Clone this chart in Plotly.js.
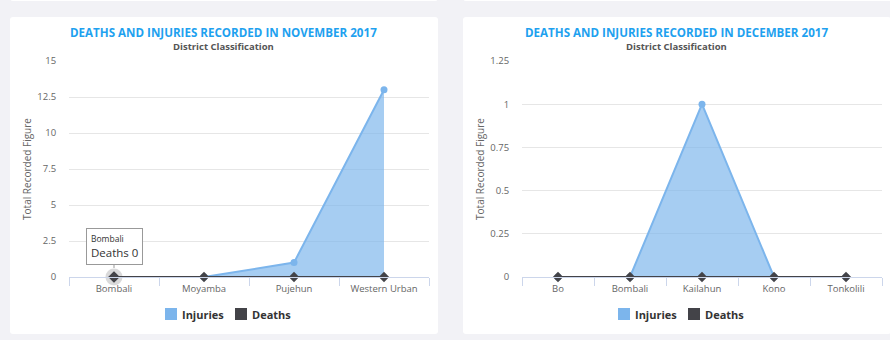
<!DOCTYPE html>
<html><head><meta charset="utf-8">
<script src="https://cdn.plot.ly/plotly-3.0.1.min.js"></script>
<style>
html,body{margin:0;padding:0;width:890px;height:340px;overflow:hidden;background:#f2f2f6;font-family:"Open Sans",sans-serif;}
.card{position:absolute;background:#fff;border-radius:3px;}
</style></head><body>
<div class="card" style="left:10px;top:-10px;width:428px;height:11px"></div>
<div class="card" style="left:463px;top:-10px;width:440px;height:11px"></div>
<div class="card" id="c1" style="left:10px;top:17px;width:428px;height:317px"></div>
<div class="card" id="c2" style="left:463px;top:17px;width:428px;height:317px"></div>
<script>
// November 2017
const novTitle = "DEATHS AND INJURIES RECORDED IN NOVEMBER 2017";
const novDistricts = ["Bombali", "Moyamba", "Pujehun", "Western Urban"];
const novInjuries = [0, 0, 1, 13];
const novDeaths = [0, 0, 0, 0];
const novTicks = [0, 2.5, 5, 7.5, 10, 12.5, 15];
const novTickText = ["0", "2.5", "5", "7.5", "10", "12.5", "15"];

// December 2017
const decTitle = "DEATHS AND INJURIES RECORDED IN DECEMBER 2017";
const decDistricts = ["Bo", "Bombali", "Kailahun", "Kono", "Tonkolili"];
const decInjuries = [0, 0, 1, 0, 0];
const decDeaths = [0, 0, 0, 0, 0];
const decTicks = [0, 0.25, 0.5, 0.75, 1, 1.25];
const decTickText = ["0", "0.25", "0.5", "0.75", "1", "1.25"];

const subtitle = "District Classification";
const yTitle = "Total Recorded Figure";
const seriesNames = ["Injuries", "Deaths"];
// highlighted tooltip point (November chart)
const tipIndex = 0;

const FONT = '"Open Sans", sans-serif';
const INJ = '#7cb5ec', DEA = '#434348';

function build(div, title, cats, inj, dea, ticks, tickText, ymax, tip) {
  const traces = [
    {x: cats, y: inj, name: seriesNames[0], type: 'scatter', mode: 'lines+markers', showlegend: false,
     fill: 'tozeroy', fillcolor: 'rgba(124,181,236,0.68)',
     line: {color: INJ, width: 2}, marker: {color: INJ, size: 7, symbol: 'circle'},
     cliponaxis: false},
    {x: cats, y: dea, name: seriesNames[1], type: 'scatter', mode: 'lines+markers', showlegend: false,
     line: {color: DEA, width: 2}, marker: {color: DEA, size: 8, symbol: 'diamond'},
     cliponaxis: false}
  ];
  const annotations = [
    {text: '<b>' + title + '</b>', xref: 'paper', yref: 'paper', x: 0.43, y: 1, yshift: 29,
     showarrow: false, font: {family: FONT, size: 11.6, color: '#1ea1ef'}, xanchor: 'center', yanchor: 'middle'},
    {text: '<b>' + subtitle + '</b>', xref: 'paper', yref: 'paper', x: 0.43, y: 1, yshift: 15,
     showarrow: false, font: {family: FONT, size: 9.5, color: '#555'}, xanchor: 'center', yanchor: 'middle'},
    // legend labels
    {text: '<b>' + seriesNames[0] + '</b>', xref: 'paper', yref: 'paper', x: 0, y: 0, xshift: 111, yshift: -37,
     showarrow: false, xanchor: 'left', yanchor: 'middle', font: {family: FONT, size: 11, color: '#333'}},
    {text: '<b>' + seriesNames[1] + '</b>', xref: 'paper', yref: 'paper', x: 0, y: 0, xshift: 181, yshift: -37,
     showarrow: false, xanchor: 'left', yanchor: 'middle', font: {family: FONT, size: 11, color: '#333'}}
  ];
  const shapes = [
    {type: 'rect', xref: 'paper', yref: 'paper', xsizemode: 'pixel', ysizemode: 'pixel', xanchor: 0, yanchor: 0,
     x0: 96, x1: 108, y0: -31, y1: -43, fillcolor: INJ, line: {width: 0}},
    {type: 'rect', xref: 'paper', yref: 'paper', xsizemode: 'pixel', ysizemode: 'pixel', xanchor: 0, yanchor: 0,
     x0: 166, x1: 178, y0: -31, y1: -43, fillcolor: DEA, line: {width: 0}}
  ];
  if (tip !== null) {
    traces.push({x: [cats[tip]], y: [dea[tip]], type: 'scatter', mode: 'markers', showlegend: false,
      marker: {color: 'rgba(67,67,72,0.2)', size: 17, symbol: 'circle'}, cliponaxis: false});
    traces.push({x: [cats[tip]], y: [dea[tip]], type: 'scatter', mode: 'markers', showlegend: false,
      marker: {color: DEA, size: 9, symbol: 'diamond'}, cliponaxis: false});
    annotations.push({x: cats[tip], y: dea[tip], xref: 'x', yref: 'y',
      text: '<span style="font-size:8.5px">' + cats[tip] + '</span><br>' + seriesNames[1] + ' ' + dea[tip],
      align: 'left', showarrow: true, arrowhead: 0, arrowwidth: 1, arrowcolor: '#999', ax: 0, ay: -31,
      standoff: 9, bgcolor: 'rgba(255,255,255,0.95)', bordercolor: '#999', borderwidth: 1, borderpad: 4,
      font: {family: FONT, size: 11.5, color: '#333'}});
  }
  const layout = {
    width: 428, height: 317,
    margin: {l: 59, r: 9, t: 44, b: 57},
    paper_bgcolor: 'rgba(0,0,0,0)', plot_bgcolor: 'rgba(0,0,0,0)',
    font: {family: FONT, color: '#666'},
    showlegend: false, hovermode: false,
    xaxis: {type: 'category', range: [-0.5, cats.length - 0.5], showgrid: false, zeroline: false,
      showline: true, linecolor: '#ccd6eb', linewidth: 1, ticks: 'outside', tickson: 'boundaries',
      ticklen: 8, tickcolor: '#ccd6eb', ticklabelstandoff: 3, tickfont: {family: FONT, size: 9.5, color: '#666'}, fixedrange: true, automargin: false},
    yaxis: {range: [0, ymax], tickvals: ticks, ticktext: tickText, showgrid: true, gridcolor: '#e6e6e6',
      zeroline: false, showline: false, ticks: 'outside', ticklen: 10, tickcolor: 'rgba(0,0,0,0)',
      tickfont: {family: FONT, size: 9.5, color: '#666'}, automargin: false,
      title: {text: yTitle, font: {family: FONT, size: 10, color: '#666'}, standoff: 3}, fixedrange: true},
    annotations: annotations,
    shapes: shapes
  };
  Plotly.newPlot(div, traces, layout, {displayModeBar: false, staticPlot: true});
}
build('c1', novTitle, novDistricts, novInjuries, novDeaths, novTicks, novTickText, 15, tipIndex);
build('c2', decTitle, decDistricts, decInjuries, decDeaths, decTicks, decTickText, 1.25, null);
</script></body></html>
